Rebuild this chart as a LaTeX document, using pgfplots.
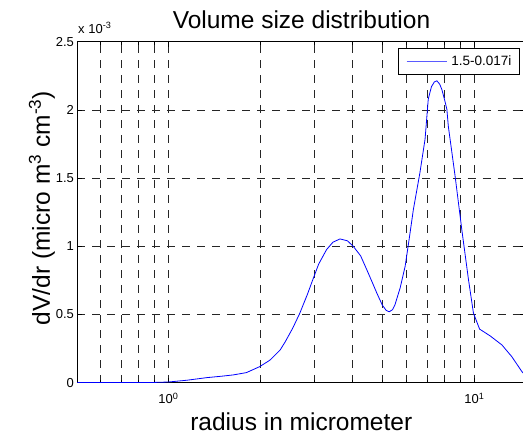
\documentclass[border=0pt]{standalone}
\usepackage{fontspec}
\setmainfont{Liberation Sans}
\usepackage{pgfplots}
\pgfplotsset{compat=1.18}
\definecolor{mlblue}{RGB}{0,0,255}
\definecolor{lgblue}{RGB}{90,90,255}
\begin{document}
\begin{tikzpicture}
\useasboundingbox (-77.5pt,-52.3pt) rectangle (445.5pt,382.7pt);
\begin{axis}[
  at={(0pt,0pt)}, anchor=south west,
  scale only axis, width=447pt, height=341pt,
  xmode=log, log basis x=10,
  xmin=0.505, xmax=14.58, ymin=0, ymax=0.0025,
  xtick={1,10}, xticklabels={10\textsuperscript{0},10\textsuperscript{1}},
  minor xtick={0.6,0.7,0.8,0.9,2,3,4,5,6,7,8,9},
  ytick={0,0.0005,0.001,0.0015,0.002,0.0025},
  yticklabels={0,0.5,1,1.5,2,2.5},
  scaled y ticks=false,
  xmajorgrids, xminorgrids, ymajorgrids,
  major grid style={black!85, dash pattern=on 8pt off 7pt, line width=0.55pt},
  minor grid style={black!85, dash pattern=on 8pt off 7pt, line width=0.55pt},
  tick align=inside, major tick length=5pt, minor tick length=3pt,
  tick style={black, line width=0.6pt},
  axis line style={black, line width=0.8pt},
  every tick label/.append style={font=\fontsize{13}{15}\selectfont},
  xticklabel style={anchor=base, yshift=-21.3pt},
  yticklabel style={anchor=east},
  legend style={at={(rel axis cs:0.9877,0.9806)}, anchor=north east,
    font=\fontsize{13.5}{15}\selectfont,
    inner xsep=7.5pt, inner ysep=7pt, column sep=4pt,
    nodes={inner sep=0pt}},
  legend image code/.code={\draw[lgblue, line width=1.2pt] (0.9pt,0pt) -- (40.9pt,0pt);},
]
\addplot[mlblue, line width=0.8pt] coordinates {
(0.505,0.0000005) (0.6,0.0000008) (0.7,0.000001) (0.8,0.0000015) (0.9,0.000002)
(1.0,0.000005) (1.15,0.000018) (1.335,0.000037) (1.5,0.000048) (1.63,0.000057)
(1.80,0.000074) (1.99,0.000118) (2.147,0.000165) (2.32,0.00024) (2.41,0.00030)
(2.55,0.00040) (2.69,0.00051) (2.85,0.00065) (2.98,0.000768) (3.1,0.00087)
(3.29,0.000976) (3.45,0.00103) (3.64,0.001054) (3.85,0.00104) (4.02,0.00100)
(4.25,0.00093) (4.45,0.000829) (4.65,0.00073) (4.80,0.000657) (5.0,0.00057)
(5.15,0.00053) (5.27,0.00052) (5.4,0.000535) (5.5,0.00057) (5.72,0.000694)
(5.94,0.000853) (6.12,0.00105) (6.32,0.00127) (6.64,0.00154) (6.90,0.001785)
(7.07,0.00208) (7.24,0.00217) (7.4,0.002205) (7.54,0.002213) (7.7,0.00219)
(7.83,0.00215) (8.0,0.00207) (8.13,0.002005)
(8.22,0.00188) (8.65,0.001515) (9.10,0.00112) (9.56,0.00076) (9.93,0.00051)
(10.4,0.000393) (11.26,0.000343) (12.3,0.000277) (13.25,0.000191) (14.3,0.000081)
(14.58,0.00006)
};
\addlegendentry{1.5-0.017i}
\end{axis}
\node[anchor=base west, font=\fontsize{13}{15}\selectfont, inner sep=0pt] at (0.5pt,349.4pt) {x 10\textsuperscript{-3}};
\node[anchor=base, font=\fontsize{24.5}{28}\selectfont, inner sep=0pt] at (224pt,354.4pt) {Volume size distribution};
\node[anchor=base, font=\fontsize{24.5}{28}\selectfont, inner sep=0pt] at (223.8pt,-48pt) {radius in micrometer};
\node[anchor=base, rotate=90, font=\fontsize{24.5}{28}\selectfont, inner sep=0pt] at (-27.5pt,174.7pt) {dV/dr (micro m\textsuperscript{3} cm\textsuperscript{-3})};
\end{tikzpicture}
\end{document}
